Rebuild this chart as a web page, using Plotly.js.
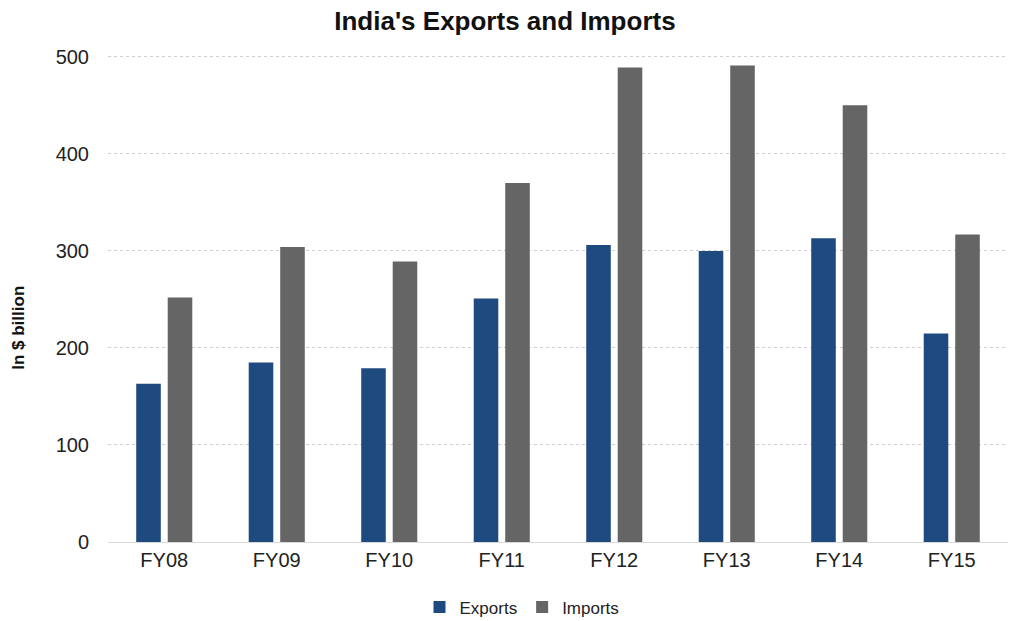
<!DOCTYPE html>
<html><head><meta charset="utf-8">
<script src="https://cdn.plot.ly/plotly-3.0.1.min.js"></script>
<style>body{margin:0;background:#fff}#c{width:1016px;height:621px}</style>
</head><body><div id="c"></div>
<script>
const categories = ["FY08","FY09","FY10","FY11","FY12","FY13","FY14","FY15"];
const exportsVals = [163, 185, 179, 251, 306, 300, 313, 215];
const importsVals = [252, 304, 289, 370, 489, 491, 450, 317];
const yTicks = [0,100,200,300,400,500];

const traces = [
  {type:'bar', name:'Exports', x:categories, y:exportsVals, marker:{color:'#1f4a80'}},
  {type:'bar', name:'Imports', x:categories, y:importsVals, marker:{color:'#656565'}}
];
const layout = {
  width:1016, height:621,
  margin:{l:108, r:8, t:52, b:79, autoexpand:false},
  paper_bgcolor:'#fff', plot_bgcolor:'#fff',
  font:{family:'Liberation Sans, Arial, sans-serif', color:'#222'},
  title:{text:"<b>India's Exports and Imports</b>", x:0.497, xanchor:'center', y:0.966, yanchor:'middle', font:{size:26, color:'#111'}},
  barmode:'group', bargap:0.44, bargroupgap:0.22,
  xaxis:{tickfont:{size:20, color:'#222'}, showline:true, linecolor:'#d9d9d9', ticks:'', showgrid:false},
  yaxis:{range:[0,505], tickvals:yTicks, tickfont:{size:20, color:'#222'}, showgrid:true, gridcolor:'#cfcfcf', griddash:'3px,3px', gridwidth:1, zeroline:false, ticks:'', ticklabelstandoff:18},
  annotations:[{text:'<b>In $ billion</b>', xref:'paper', yref:'paper', x:-0.099, y:0.437, xanchor:'center', yanchor:'middle', textangle:-90, showarrow:false, font:{size:17, color:'#111'}}],
  legend:{orientation:'h', x:0.46, xanchor:'center', yref:'container', y:0.022, yanchor:'middle', font:{size:17, color:'#222'}, itemwidth:30},
  showlegend:true
};
Plotly.newPlot('c', traces, layout, {displayModeBar:false});
</script></body></html>
